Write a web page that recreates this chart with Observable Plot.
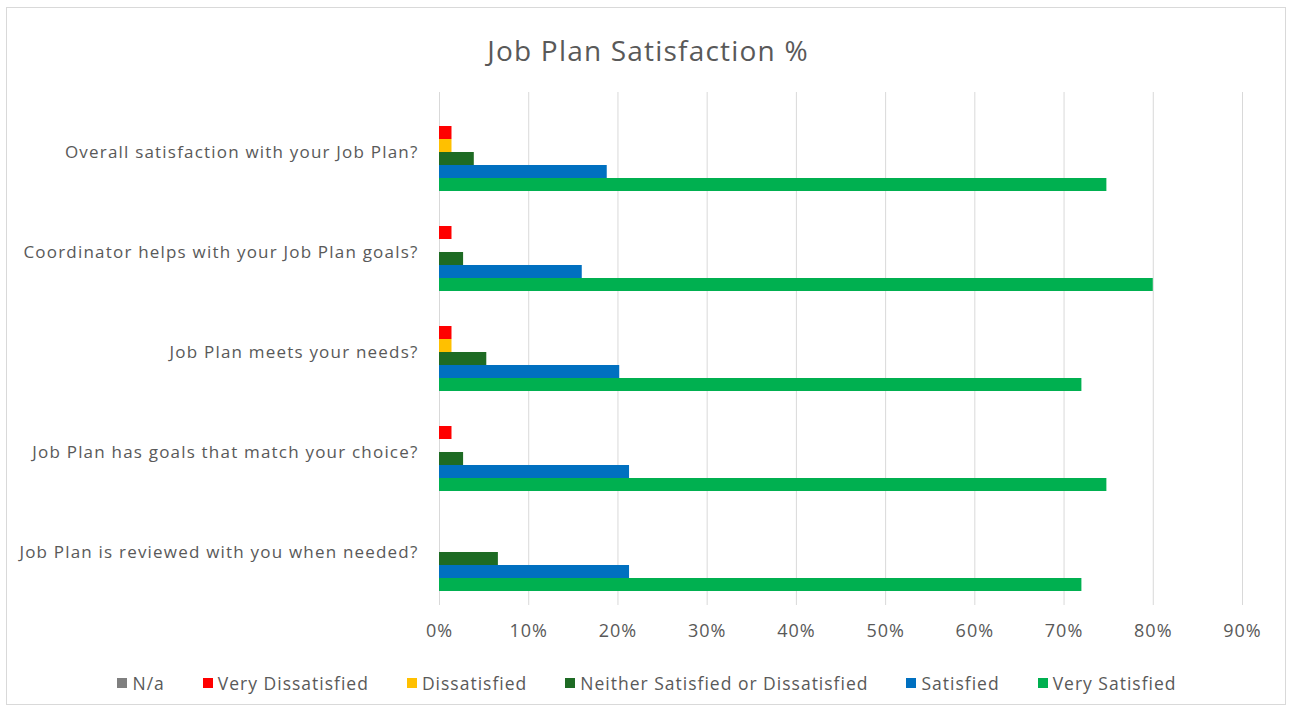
<!DOCTYPE html>
<html>
<head>
<meta charset="utf-8">
<script src="https://cdn.jsdelivr.net/npm/d3@7"></script>
<script src="https://cdn.jsdelivr.net/npm/@observablehq/plot@0.6"></script>
<style>
  html, body { margin: 0; padding: 0; background: #fff; }
  #wrap { position: relative; width: 1290px; height: 717px; overflow: hidden; font-family: "Open Sans", "Liberation Sans", sans-serif; }
  #frame { position: absolute; left: 6px; top: 7px; width: 1280px; height: 698px; border: 1px solid #d9d9d9; box-sizing: border-box; }
  #title { position: absolute; left: 3px; width: 1290px; top: 30px; text-align: center; font-size: 28px; letter-spacing: 1.2px; color: #595959; line-height: 40px; }
  .layer { position: absolute; left: 0; top: 0; }
  #legend { position: absolute; left: 0; width: 1294px; top: 671px; display: flex; justify-content: center; gap: 38px; font-size: 17.5px; letter-spacing: 1px; color: #595959; line-height: 24px; }
  .item { display: flex; align-items: center; gap: 5px; }
  .sw { width: 10px; height: 10px; display: inline-block; }
  #gridLayer svg text { letter-spacing: 1px; }
  #barLayer svg text { letter-spacing: 1.2px; }
</style>
</head>
<body>
<div id="wrap">
  <div id="frame"></div>
  <div id="title">Job Plan Satisfaction %</div>
  <div id="gridLayer" class="layer"></div>
  <div id="barLayer" class="layer"></div>
  <div id="legend"></div>
</div>
<script>
// ---- Data ----
const questions = [
  "Overall satisfaction with your Job Plan?",
  "Coordinator helps with your Job Plan goals?",
  "Job Plan meets your needs?",
  "Job Plan has goals that match your choice?",
  "Job Plan is reviewed with you when needed?"
];
const series = ["N/a", "Very Dissatisfied", "Dissatisfied", "Neither Satisfied or Dissatisfied", "Satisfied", "Very Satisfied"];
const colors = ["#7f7f7f", "#ff0000", "#ffc000", "#1e6b24", "#0070c0", "#00b050"];

// percentages per series, in the order of questions
const naVals        = [0, 0, 0, 0, 0];
const veryDisVals   = [1.4, 1.4, 1.4, 1.4, 0];
const disVals       = [1.4, 0, 1.4, 0, 0];
const neitherVals   = [3.9, 2.7, 5.3, 2.7, 6.6];
const satisfiedVals = [18.8, 16.0, 20.2, 21.3, 21.3];
const verySatVals   = [74.8, 80.0, 72.0, 74.8, 72.0];

const xTicks = [0, 10, 20, 30, 40, 50, 60, 70, 80, 90];

const seriesValues = [naVals, veryDisVals, disVals, neitherVals, satisfiedVals, verySatVals];
const rows = [];
series.forEach((s, si) => {
  questions.forEach((q, qi) => {
    rows.push({question: q, series: s, value: seriesValues[si][qi] / 100});
  });
});

const W = 1290, H = 717;
const font = '"Open Sans", "Liberation Sans", sans-serif';

// ---- Grid + x axis layer ----
const gridPlot = Plot.plot({
  width: W, height: H,
  marginLeft: 439, marginRight: 48, marginTop: 92, marginBottom: 112,
  style: {background: "transparent", color: "#595959", fontFamily: font, fontSize: "18px"},
  x: {domain: [0, 0.9], ticks: xTicks.map(d => d / 100), tickFormat: d3.format(".0%"), tickSize: 0, tickPadding: 19, label: null},
  marks: [
    Plot.ruleX(xTicks.map(d => d / 100), {stroke: "#d9d9d9", strokeWidth: 1})
  ]
});
document.getElementById("gridLayer").appendChild(gridPlot);

// ---- Bars layer ----
const barPlot = Plot.plot({
  width: W, height: H,
  marginLeft: 439, marginRight: 48, marginTop: 102, marginBottom: 115,
  style: {background: "transparent", color: "#595959", fontFamily: font, fontSize: "17px"},
  x: {domain: [0, 0.9], axis: null},
  fy: {domain: questions, padding: 0, label: null, tickSize: 0, tickPadding: 21, axis: "left"},
  y: {domain: series, paddingInner: 0, paddingOuter: 0.846, axis: null},
  color: {domain: series, range: colors},
  marks: [
    Plot.barX(rows, {fy: "question", y: "series", x: "value", fill: "series"})
  ]
});
document.getElementById("barLayer").appendChild(barPlot);

// ---- Legend ----
const legend = document.getElementById("legend");
series.forEach((s, i) => {
  const item = document.createElement("div");
  item.className = "item";
  const sw = document.createElement("span");
  sw.className = "sw";
  sw.style.background = colors[i];
  const t = document.createElement("span");
  t.textContent = s;
  item.appendChild(sw);
  item.appendChild(t);
  legend.appendChild(item);
});
</script>
</body>
</html>
